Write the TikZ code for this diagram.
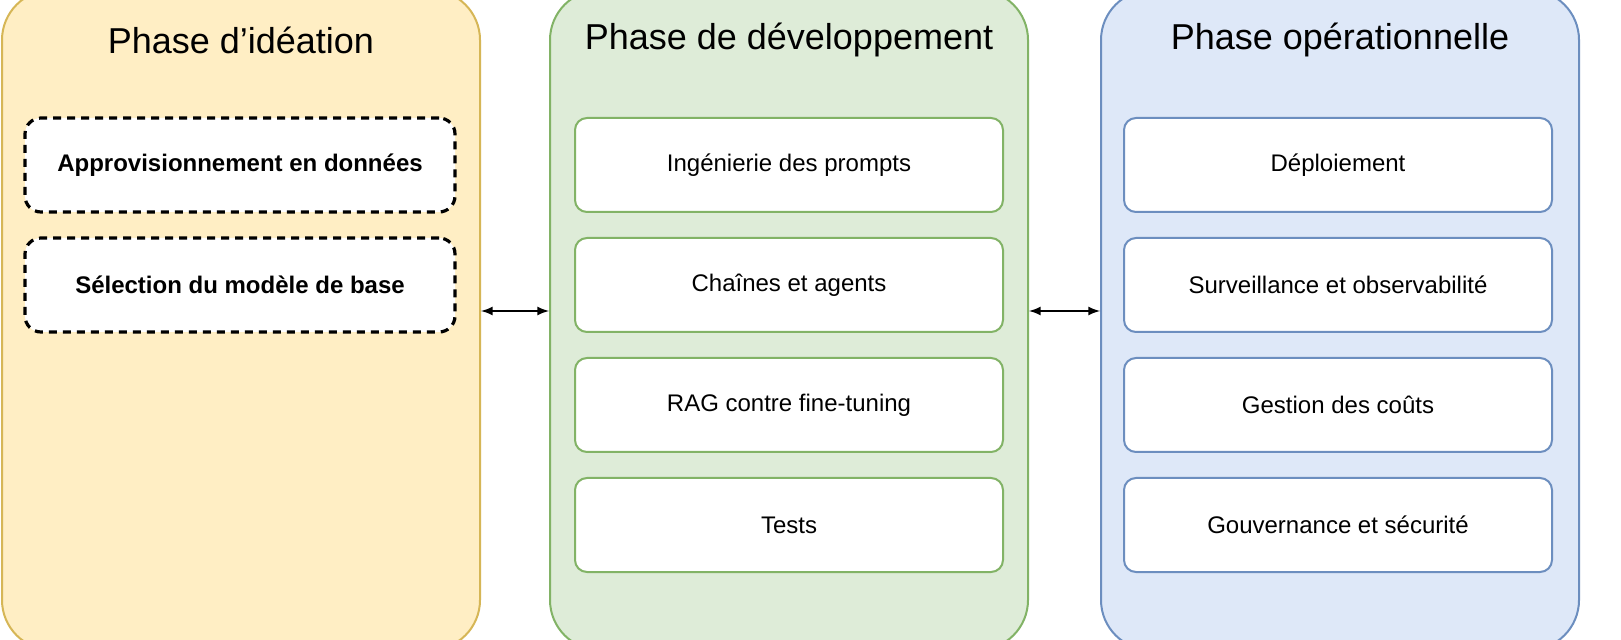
\documentclass[tikz,border=0pt]{standalone}
\usepackage{fontspec}
\setmainfont{Liberation Sans}
\definecolor{yfill}{RGB}{255,238,196}
\definecolor{ydraw}{RGB}{214,182,86}
\definecolor{gfill}{RGB}{222,236,216}
\definecolor{gdraw}{RGB}{130,179,102}
\definecolor{bfill}{RGB}{222,232,248}
\definecolor{bdraw}{RGB}{108,142,191}
\begin{document}
\begin{tikzpicture}[x=0.5pt,y=-0.5pt,
 col/.style={draw=#1,line width=1pt,rounded corners=25pt,minimum width=239pt,minimum height=330pt,inner sep=0pt},
 item/.style={draw=#1,line width=1pt,fill=white,rounded corners=6pt,minimum width=214pt,minimum height=47pt,font=\fontsize{12}{14}\selectfont},
 dashitem/.style={draw=black,line width=1.6pt,dash pattern=on 4pt off 3pt,fill=white,rounded corners=8pt,minimum width=215pt,minimum height=47pt,font=\bfseries\fontsize{12}{14}\selectfont},
 title/.style={font=\fontsize{18}{21}\selectfont},
 arr/.style={<->,line width=1pt,>=latex}]
\useasboundingbox (0,0) rectangle (1621,640);
\fill[white] (0,0) rectangle (1621,640);
\node[col=ydraw,fill=yfill] (c1) at (241,320) {};
\node[col=gdraw,fill=gfill] (c2) at (789,320) {};
\node[col=bdraw,fill=bfill] (c3) at (1340,320) {};
\node[title] (t1) at (241,40) {Phase d'idéation};
\node[title] (t2) at (789,40) {Phase de développement};
\node[title] (t3) at (1340,40) {Phase opérationnelle};
\node[dashitem] (a1) at (240,165) {Approvisionnement en données};
\node[dashitem] (a2) at (240,285) {Sélection du modèle de base};
\node[item=gdraw] (b1) at (789,165) {Ingénierie des prompts};
\node[item=gdraw] (b2) at (789,285) {Chaînes et agents};
\node[item=gdraw] (b3) at (789,405) {RAG contre fine-tuning};
\node[item=gdraw] (b4) at (789,525) {Tests};
\node[item=bdraw] (d1) at (1338,165) {Déploiement};
\node[item=bdraw] (d2) at (1338,285) {Surveillance et observabilité};
\node[item=bdraw] (d3) at (1338,405) {Gestion des coûts};
\node[item=bdraw] (d4) at (1338,525) {Gouvernance et sécurité};
\draw[arr] (c1.east |- 0,311) -- (c2.west |- 0,311);
\draw[arr] (c2.east |- 0,311) -- (c3.west |- 0,311);
\end{tikzpicture}
\end{document}
